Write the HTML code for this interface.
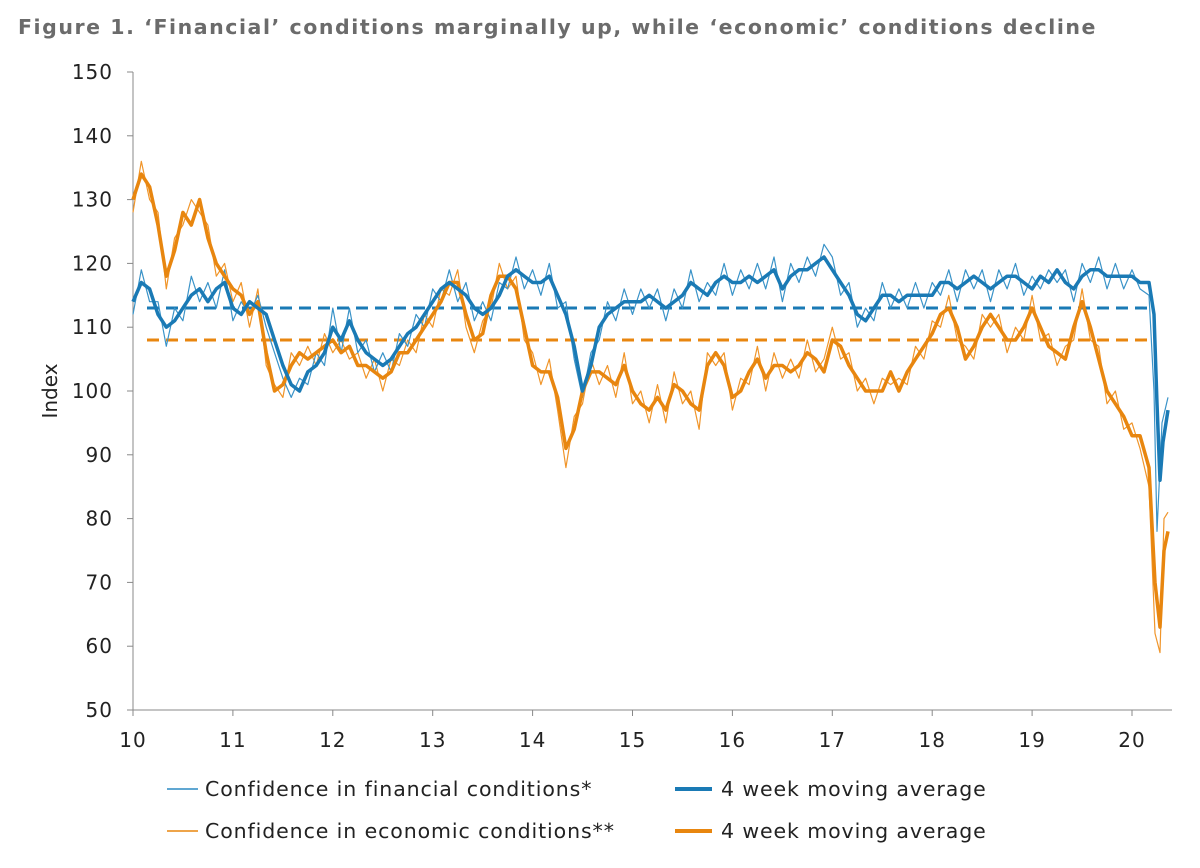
<!DOCTYPE html>
<html><head><meta charset="utf-8"><style>
body{margin:0;background:#fff;width:1200px;height:864px;overflow:hidden;font-family:"DejaVu Sans","Liberation Sans",sans-serif}
</style></head><body>
<svg width="1200" height="864" id="c">
<text x="18" y="34" font-size="20.5" font-weight="bold" fill="#6b6b6b" letter-spacing="1.55">Figure 1. ‘Financial’ conditions marginally up, while ‘economic’ conditions decline</text>
<text transform="translate(57,391) rotate(-90)" text-anchor="middle" font-size="20" fill="#222">Index</text>
<g id="axes"></g><g id="series"></g>
<g>
<line x1="167" y1="789" x2="198" y2="789" stroke="#2b8ac4" stroke-width="1.5"/>
<text x="205" y="796" font-size="20.5" letter-spacing="0.9" fill="#222">Confidence in financial conditions*</text>
<line x1="675" y1="789" x2="712" y2="789" stroke="#1a7ab5" stroke-width="4"/>
<text x="721" y="796" font-size="20.5" letter-spacing="0.9" fill="#222">4 week moving average</text>
<line x1="167" y1="831" x2="198" y2="831" stroke="#e8860f" stroke-width="1.5"/>
<text x="205" y="838" font-size="20.5" letter-spacing="0.9" fill="#222">Confidence in economic conditions**</text>
<line x1="675" y1="831" x2="712" y2="831" stroke="#e8860f" stroke-width="4"/>
<text x="721" y="838" font-size="20.5" letter-spacing="0.9" fill="#222">4 week moving average</text>
</g>
</svg>
<script>
const yTicks=[50,60,70,80,90,100,110,120,130,140,150];
const xTicks=[10,11,12,13,14,15,16,17,18,19,20];
const finAvg=113, ecoAvg=108;
const finMA=[114,117,116,112,110,111,113,115,116,114,116,117,113,112,114,113,112,108,104,101,100,103,104,106,110,108,111,108,106,105,104,105,107,109,110,112,114,116,117,116,115,113,112,113,115,118,119,118,117,117,118,115,112,107,100,104,110,112,113,114,114,114,115,114,113,114,115,117,116,115,117,118,117,117,118,117,118,119,116,118,119,119,120,121,119,117,115,112,111,113,115,115,114,115,115,115,115,117,117,116,117,118,117,116,117,118,118,117,116,118,117,119,117,116,118,119,119,118,118,118];
const finMAEnd=[118,117,117,112,98,86,92,97];
const finMAEndT=[20.0,20.08,20.17,20.22,20.25,20.28,20.31,20.36];
const finRaw=[112,119,114,114,107,113,111,118,114,117,113,119,111,114,112,115,110,106,102,99,102,101,106,104,113,106,113,106,108,103,106,103,109,107,112,110,116,114,119,114,117,111,114,111,117,116,121,116,119,115,120,113,114,105,99,106,108,114,111,116,112,116,113,116,111,116,113,119,114,117,115,120,115,119,116,120,116,121,114,120,117,121,118,123,121,115,117,110,113,111,117,113,116,113,117,113,117,115,119,114,119,116,119,114,119,116,120,115,118,116,119,117,119,114,120,117,121,116,120,116];
const finRawEnd=[119,116,115,100,78,95,99];
const finRawEndT=[20.0,20.08,20.17,20.22,20.25,20.3,20.36];
const ecoMA=[130,134,132,126,118,122,128,126,130,124,120,118,116,115,112,114,106,100,101,104,106,105,106,107,108,106,107,104,104,103,102,103,106,106,108,110,112,114,117,117,112,108,109,115,118,118,116,110,104,103,103,99,91,94,100,103,103,102,101,104,100,98,97,99,97,101,100,98,97,104,106,104,99,100,103,105,102,104,104,103,104,106,105,103,108,107,104,102,100,100,100,103,100,103,105,107,109,112,113,110,105,107,110,112,110,108,108,110,113,110,107,106,105,110,114,110,105,100,98,96];
const ecoMAEnd=[93,93,88,70,63,75,78];
const ecoMAEndT=[20.0,20.08,20.17,20.23,20.28,20.32,20.36];
const ecoRaw=[128,136,130,128,116,124,126,130,128,126,118,120,114,117,110,116,104,101,99,106,104,107,104,109,106,108,105,106,102,105,100,105,104,108,106,112,110,116,115,119,110,106,111,113,120,116,118,108,106,101,105,97,88,96,98,105,101,104,99,106,98,100,95,101,95,103,98,100,94,106,104,106,97,102,101,107,100,106,102,105,102,108,103,105,110,105,106,100,102,98,102,101,102,101,107,105,111,110,115,108,107,105,112,110,112,106,110,108,115,108,109,104,107,108,116,108,107,98,100,94];
const ecoRawEnd=[95,91,85,62,59,80,81];
const ecoRawEndT=[20.0,20.08,20.17,20.23,20.28,20.32,20.36];

const X=t=>133+(t-10)*99.9, Y=v=>710-(v-50)*6.38;
const NS='http://www.w3.org/2000/svg';
const ax=document.getElementById('axes'), se=document.getElementById('series');
function mk(tag,attrs,parent){const e=document.createElementNS(NS,tag);for(const k in attrs)e.setAttribute(k,attrs[k]);parent.appendChild(e);return e;}
mk('line',{x1:133,y1:72,x2:133,y2:710,stroke:'#888','stroke-width':1},ax);
mk('line',{x1:133,y1:710,x2:1172,y2:710,stroke:'#888','stroke-width':1},ax);
yTicks.forEach(v=>{
  mk('line',{x1:127,y1:Y(v),x2:133,y2:Y(v),stroke:'#888'},ax);
  const t=mk('text',{x:113,y:Y(v)+7,'text-anchor':'end','font-size':20,'letter-spacing':1,fill:'#222'},ax);t.textContent=v;
  
  
});
xTicks.forEach(v=>{
  mk('line',{x1:X(v),y1:710,x2:X(v),y2:716,stroke:'#888'},ax);
  const t=mk('text',{x:X(v),y:747,'text-anchor':'middle','font-size':20,'letter-spacing':1,fill:'#222'},ax);t.textContent=v;
  
  
});
function series(vals,endVals,endT,color,w,name){
  const pts=vals.map((v,i)=>[10+i/12,v]);
  endVals.forEach((v,i)=>pts.push([endT[i],v]));
  const d=pts.map((p,i)=>(i?'L':'M')+X(p[0]).toFixed(1)+','+Y(p[1]).toFixed(1)).join('');
  const p=mk('path',{d:d,fill:'none',stroke:color,'stroke-width':w,'stroke-linejoin':'round'},se);
  
  
}
const l1=mk('line',{x1:147,y1:Y(finAvg),x2:1150,y2:Y(finAvg),stroke:'#1a7ab5','stroke-width':3,'stroke-dasharray':'12,7'},se);


const l2=mk('line',{x1:147,y1:Y(ecoAvg),x2:1150,y2:Y(ecoAvg),stroke:'#e8860f','stroke-width':3,'stroke-dasharray':'12,7'},se);


series(ecoRaw,ecoRawEnd,ecoRawEndT,'#f0952a',1.2,'economic-raw-line');
series(finRaw,finRawEnd,finRawEndT,'#3a93c8',1.2,'financial-raw-line');
series(ecoMA,ecoMAEnd,ecoMAEndT,'#e8860f',3.5,'economic-ma-line');
series(finMA,finMAEnd,finMAEndT,'#1a7ab5',3.5,'financial-ma-line');
</script>
</body></html>
